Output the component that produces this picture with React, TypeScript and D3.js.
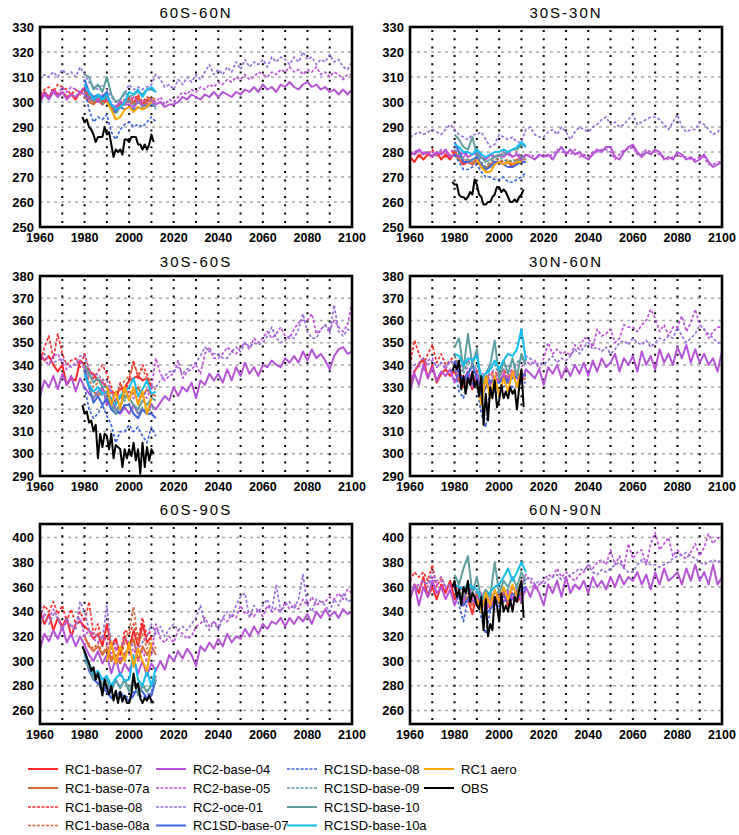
import React from "react";
import * as d3 from "d3";

// year axes for the different runs
const yrsLong = d3.range(1960, 2101, 2); // RC2 runs
const yrsRC1 = d3.range(1960, 2011, 2); // RC1-base-07 / -08
const yrsSD = d3.range(1980, 2013, 2); // RC1SD runs, RC1-base-07a / -08a
const yrsAero = d3.range(1990, 2011, 2);
const yrsObs = d3.range(1979, 2012);

const panelTitles = ["60S-60N", "30S-30N", "30S-60S", "30N-60N", "60S-90S", "60N-90N"];
const yDomains: [number, number][] = [[250, 330], [250, 330], [290, 380], [290, 380], [249, 411], [249, 411]];
const yTicks = [
  d3.range(250, 331, 10), d3.range(250, 331, 10),
  d3.range(290, 381, 10), d3.range(290, 381, 10),
  d3.range(260, 401, 20), d3.range(260, 401, 20),
];
const xTicks = d3.range(1960, 2101, 20);

// legend / series
const seriesKeys = ["rc1b07", "rc1b07a", "rc1b08", "rc1b08a", "rc2b04", "rc2b05", "rc2oce", "sd07",
  "sd08", "sd09", "sd10", "sd10a", "aero", "obs"];
const seriesNames = ["RC1-base-07", "RC1-base-07a", "RC1-base-08", "RC1-base-08a", "RC2-base-04", "RC2-base-05",
  "RC2-oce-01", "RC1SD-base-07", "RC1SD-base-08", "RC1SD-base-09", "RC1SD-base-10", "RC1SD-base-10a", "RC1 aero", "OBS"];
const seriesColors = ["#ff2b2b", "#d8693a", "#ff2b2b", "#d8693a", "#b652d8", "#c050dc", "#9670dc", "#3f66e0",
  "#3f66e0", "#5f9ea0", "#5f9ea0", "#10bdf5", "#ffa500", "#000000"];
const seriesDashed = [false, false, true, true, false, true, true, false, true, true, false, false, false, false];

// ---- 60S-60N ----
const g_rc2b04 = [300, 303, 301, 304, 302, 304, 301, 303, 302, 304,
  303, 301, 302, 300, 302, 301, 299, 298, 300, 299,
  299, 298, 300, 299, 298, 300, 299, 300, 298, 299,
  299, 300, 302, 301, 303, 302, 301, 303, 302, 304,
  302, 304, 303, 302, 304, 303, 305, 304, 306, 304,
  307, 305, 306, 304, 307, 306, 308, 306, 305, 307,
  308, 306, 307, 305, 306, 304, 305, 303, 305, 303, 305];
const g_rc2b05 = [301, 304, 302, 305, 303, 306, 304, 306, 305, 304,
  306, 303, 302, 301, 303, 301, 299, 298, 300, 301,
  300, 302, 300, 301, 299, 301, 300, 302, 299, 301,
  300, 302, 304, 303, 305, 304, 306, 305, 307, 306,
  308, 307, 309, 308, 310, 309, 311, 309, 310, 312,
  311, 310, 312, 311, 313, 312, 314, 312, 313, 311,
  313, 312, 314, 311, 312, 310, 312, 311, 309, 311, 311];
const g_rc2oce = [309, 311, 310, 312, 310, 313, 311, 312, 310, 314,
  311, 308, 306, 305, 307, 305, 302, 300, 301, 303,
  307, 305, 306, 305, 306, 307, 311, 309, 306, 307,
  305, 309, 307, 310, 308, 311, 309, 312, 315, 311,
  313, 311, 314, 312, 316, 313, 317, 314, 316, 315,
  317, 314, 318, 316, 318, 317, 315, 318, 316, 320,
  317, 318, 315, 317, 316, 319, 316, 317, 314, 313, 316];
const g_rc1b07 = [301, 304, 302, 305, 303, 304, 302, 303, 301, 304,
  305, 302, 300, 301, 299, 301, 297, 296, 299, 300, 301, 300, 302, 299, 301, 300];
const g_rc1b08 = [303, 305, 306, 304, 307, 306, 305, 303, 305, 303,
  306, 303, 301, 302, 300, 303, 298, 297, 300, 299, 302, 301, 303, 300, 302, 301];
const g_rc1b07a = [302, 300, 299, 301, 300, 302, 298, 296, 299, 300, 300, 299, 301, 298, 300, 301, 300];
const g_rc1b08a = [304, 301, 300, 302, 299, 303, 299, 297, 300, 301, 301, 300, 302, 299, 301, 302, 301];
const g_sd07 = [309, 304, 302, 303, 302, 304, 297, 296, 298, 297, 298, 297, 298, 297, 298, 299, 298];
const g_sd08 = [305, 297, 292, 294, 293, 295, 288, 285, 289, 291, 292, 290, 291, 290, 292, 294, 292];
const g_sd09 = [307, 302, 300, 302, 299, 303, 297, 295, 298, 299, 301, 299, 300, 298, 299, 300, 297];
const g_sd10 = [311, 310, 305, 307, 304, 310, 303, 300, 301, 304, 302, 303, 304, 303, 305, 305, 304];
const g_sd10a = [307, 304, 301, 303, 301, 303, 299, 297, 298, 300, 304, 303, 305, 302, 305, 306, 304];
const g_aero = [300, 297, 293, 294, 297, 298, 296, 298, 297, 298, 300];
const g_obs = [294, 292, 293, 290, 289, 287, 284, 286, 286, 286,
  290, 287, 288, 283, 278, 281, 280, 281, 279, 285,
  285, 284, 286, 286, 286, 283, 283, 281, 283, 281, 283, 287, 284];

// ---- 30S-30N ----
const t_rc2b04 = [280, 279, 281, 279, 280, 278, 280, 279, 281, 278,
  279, 278, 280, 278, 279, 280, 278, 277, 279, 278,
  279, 278, 280, 278, 279, 277, 279, 278, 277, 279,
  278, 279, 277, 280, 282, 279, 281, 279, 280, 278,
  277, 279, 281, 280, 282, 282, 278, 277, 280, 282,
  283, 280, 278, 280, 279, 281, 280, 277, 278, 277,
  280, 279, 277, 278, 276, 277, 279, 276, 274, 275, 276];
const t_rc2b05 = [279, 280, 281, 280, 279, 280, 279, 281, 279, 280,
  281, 279, 278, 280, 279, 279, 277, 278, 278, 279,
  278, 280, 279, 278, 280, 278, 278, 279, 278, 278,
  279, 278, 279, 281, 280, 280, 279, 281, 278, 279,
  278, 280, 280, 281, 281, 280, 277, 279, 281, 281,
  282, 279, 279, 281, 280, 280, 279, 278, 277, 278,
  279, 278, 278, 277, 277, 278, 278, 275, 275, 276, 276];
const t_rc2oce = [286, 287, 288, 287, 288, 289, 288, 287, 289, 291,
  289, 287, 286, 285, 287, 287, 288, 285, 282, 283,
  287, 286, 285, 286, 284, 284, 289, 290, 287, 286,
  286, 288, 289, 287, 290, 288, 285, 288, 290, 289,
  288, 290, 291, 293, 294, 291, 292, 290, 291, 293,
  295, 291, 292, 293, 294, 294, 293, 291, 289, 292,
  295, 290, 288, 289, 289, 292, 291, 289, 287, 288, 290];
const t_rc1b07 = [278, 276, 279, 277, 279, 278, 280, 277, 279, 277,
  280, 277, 275, 276, 275, 277, 274, 273, 275, 276, 276, 275, 276, 274, 276, 277];
const t_rc1b08 = [279, 280, 278, 280, 279, 281, 278, 280, 278, 279,
  281, 278, 277, 276, 277, 278, 275, 274, 276, 277, 277, 276, 277, 275, 277, 278];
const t_rc1b07a = [279, 277, 276, 276, 275, 277, 274, 273, 275, 276, 276, 275, 276, 275, 276, 277, 277];
const t_rc1b08a = [280, 278, 277, 277, 276, 278, 275, 274, 276, 277, 277, 276, 277, 276, 277, 278, 278];
const t_sd07 = [284, 280, 276, 276, 277, 278, 275, 273, 274, 276, 276, 275, 274, 274, 275, 276, 276];
const t_sd08 = [279, 276, 273, 273, 274, 275, 272, 270, 270, 269, 269, 270, 268, 268, 269, 270, 272];
const t_sd09 = [281, 279, 277, 277, 276, 279, 276, 274, 276, 277, 278, 277, 276, 277, 276, 278, 277];
const t_sd10 = [287, 285, 282, 281, 286, 279, 278, 276, 277, 278, 279, 279, 280, 281, 281, 283, 282];
const t_sd10a = [283, 282, 280, 280, 279, 281, 279, 278, 279, 280, 280, 281, 280, 281, 282, 284, 282];
const t_aero = [277, 274, 272, 272, 275, 276, 275, 276, 275, 276, 276];
const t_obs = [268, 267, 267, 263, 262, 262, 261, 262, 264, 263,
  269, 267, 263, 262, 259, 259, 260, 260, 262, 263,
  266, 266, 264, 265, 264, 262, 260, 260, 261, 260, 262, 263, 265];

// ---- 30S-60S ----
const sm_rc2b04 = [326, 333, 330, 335, 329, 336, 331, 335, 328, 334,
  330, 327, 325, 328, 330, 322, 325, 320, 318, 321,
  318, 322, 318, 320, 318, 322, 320, 323, 326, 324,
  330, 326, 330, 328, 332, 325, 333, 331, 336, 333,
  336, 332, 338, 333, 339, 335, 341, 336, 339, 335,
  340, 339, 342, 340, 339, 343, 341, 344, 341, 346,
  342, 347, 343, 345, 342, 338, 344, 347, 348, 345, 346];
const sm_rc2b05 = [345, 342, 340, 344, 345, 341, 338, 340, 340, 342,
  338, 335, 333, 334, 332, 330, 328, 327, 326, 328,
  328, 326, 325, 327, 325, 330, 343, 336, 333, 335,
  336, 342, 334, 337, 338, 340, 336, 345, 348, 343,
  343, 345, 348, 346, 345, 348, 350, 347, 352, 350,
  352, 355, 352, 354, 357, 353, 352, 356, 359, 360,
  360, 363, 354, 356, 358, 356, 360, 357, 355, 358, 368];
const sm_rc2oce = [343, 345, 342, 341, 342, 343, 340, 339, 341, 344,
  344, 338, 335, 336, 333, 333, 328, 324, 325, 326,
  326, 325, 324, 326, 328, 330, 330, 333, 335, 337,
  337, 339, 336, 338, 340, 341, 344, 348, 346, 345,
  345, 343, 343, 346, 348, 346, 350, 348, 350, 349,
  350, 353, 357, 352, 350, 351, 353, 352, 356, 363,
  355, 352, 352, 356, 358, 354, 367, 355, 353, 356, 355];
const sm_rc1b07 = [345, 342, 344, 340, 337, 340, 331, 334, 333, 342,
  340, 337, 336, 333, 332, 330, 328, 327, 329, 330, 333, 334, 335, 333, 334, 330];
const sm_rc1b08 = [340, 348, 353, 343, 354, 345, 340, 342, 343, 339,
  345, 338, 334, 337, 340, 336, 330, 322, 332, 326, 333, 342, 334, 340, 336, 330];
const sm_rc1b07a = [337, 330, 328, 326, 329, 327, 324, 322, 326, 325, 328, 327, 330, 326, 329, 327, 326];
const sm_rc1b08a = [339, 333, 330, 332, 334, 330, 327, 324, 330, 333, 335, 340, 336, 338, 334, 330, 329];
const sm_sd07 = [338, 330, 323, 326, 322, 325, 320, 318, 319, 322, 322, 318, 316, 320, 318, 318, 316];
const sm_sd08 = [330, 320, 316, 318, 322, 317, 313, 305, 310, 310, 313, 310, 312, 308, 305, 312, 308];
const sm_sd09 = [335, 330, 325, 328, 326, 326, 322, 320, 322, 324, 325, 322, 318, 321, 319, 320, 322];
const sm_sd10 = [340, 336, 332, 334, 330, 330, 322, 318, 322, 326, 325, 322, 320, 324, 322, 325, 324];
const sm_sd10a = [336, 331, 328, 330, 327, 328, 325, 322, 326, 328, 330, 334, 326, 329, 333, 327, 328];
const sm_aero = [330, 322, 328, 320, 330, 324, 330, 322, 328, 318, 325];
const sm_obs = [322, 318, 319, 314, 315, 310, 313, 298, 309, 303,
  309, 308, 302, 309, 298, 304, 303, 302, 294, 302,
  298, 302, 299, 305, 297, 302, 291, 305, 294, 303, 297, 302, 300];

// ---- 30N-60N ----
const nm_rc2b04 = [328, 336, 331, 340, 334, 339, 333, 337, 335, 338,
  332, 336, 333, 337, 330, 336, 330, 333, 331, 335,
  332, 336, 333, 337, 334, 332, 338, 336, 334, 338,
  331, 339, 336, 340, 334, 339, 335, 340, 336, 341,
  335, 342, 337, 343, 339, 341, 345, 337, 343, 340,
  344, 337, 346, 340, 344, 338, 347, 341, 345, 340,
  348, 343, 349, 341, 347, 341, 345, 340, 343, 337, 346];
const nm_rc2b05 = [332, 338, 340, 337, 342, 343, 339, 341, 338, 342,
  340, 338, 337, 339, 337, 336, 334, 332, 334, 335,
  335, 338, 336, 338, 340, 339, 342, 340, 342, 338,
  343, 350, 345, 347, 345, 346, 344, 349, 347, 352,
  352, 348, 356, 353, 354, 356, 350, 352, 358, 357,
  357, 355, 358, 360, 365, 361, 355, 358, 353, 357,
  357, 362, 355, 359, 365, 358, 356, 352, 355, 357, 357];
const nm_rc2oce = [338, 340, 341, 343, 340, 342, 339, 341, 339, 341,
  341, 339, 340, 342, 340, 338, 337, 334, 336, 338,
  338, 340, 339, 340, 341, 342, 344, 343, 340, 341,
  340, 342, 344, 341, 343, 342, 344, 347, 345, 348,
  350, 347, 348, 346, 348, 345, 347, 350, 351, 349,
  352, 350, 349, 351, 348, 350, 352, 351, 353, 352,
  357, 353, 350, 352, 354, 358, 356, 354, 352, 350, 350];
const nm_rc1b07 = [330, 337, 340, 343, 334, 340, 332, 336, 338, 335,
  337, 333, 330, 334, 329, 333, 328, 330, 332, 334, 333, 335, 332, 336, 334, 333];
const nm_rc1b08 = [340, 351, 345, 340, 345, 349, 341, 345, 340, 342,
  344, 338, 333, 337, 334, 338, 330, 334, 336, 337, 335, 338, 334, 338, 336, 335];
const nm_rc1b07a = [338, 334, 331, 335, 330, 334, 328, 330, 332, 334, 333, 335, 332, 336, 334, 333, 334];
const nm_rc1b08a = [340, 336, 333, 337, 333, 336, 330, 333, 335, 336, 335, 337, 334, 337, 336, 335, 336];
const nm_sd07 = [342, 336, 332, 336, 340, 334, 325, 330, 333, 332, 332, 334, 333, 334, 335, 336, 335];
const nm_sd08 = [340, 328, 325, 335, 332, 330, 318, 312, 330, 328, 326, 330, 333, 330, 330, 332, 332];
const nm_sd09 = [344, 340, 336, 342, 338, 340, 332, 334, 338, 340, 336, 338, 340, 339, 341, 343, 340];
const nm_sd10 = [348, 352, 338, 354, 340, 347, 330, 336, 340, 351, 334, 342, 336, 343, 335, 345, 340];
const nm_sd10a = [345, 344, 340, 343, 342, 344, 334, 336, 338, 342, 338, 342, 345, 344, 347, 356, 342];
const nm_aero = [332, 322, 335, 325, 335, 326, 334, 328, 337, 330, 338];
const nm_obs = [337, 340, 338, 342, 329, 335, 327, 334, 331, 337,
  330, 333, 326, 335, 313, 327, 315, 330, 325, 333,
  321, 324, 331, 325, 328, 325, 330, 327, 329, 320, 330, 338, 321];

// ---- 60S-90S ----
const sp_rc2b04 = [310, 322, 316, 325, 318, 328, 315, 322, 312, 320,
  313, 305, 300, 308, 298, 305, 290, 302, 288, 298,
  292, 302, 290, 300, 288, 298, 292, 300, 293, 305,
  300, 308, 302, 310, 305, 296, 312, 308, 315, 310,
  318, 312, 322, 315, 320, 318, 326, 320, 328, 322,
  330, 326, 332, 330, 335, 328, 335, 330, 336, 332,
  338, 330, 340, 335, 342, 336, 340, 335, 342, 338, 340];
const sp_rc2b05 = [330, 338, 335, 342, 335, 325, 332, 328, 330, 335,
  320, 325, 318, 315, 320, 315, 305, 312, 300, 308,
  305, 310, 300, 308, 300, 305, 330, 318, 315, 320,
  315, 325, 322, 318, 320, 328, 330, 335, 328, 332,
  328, 335, 332, 338, 335, 345, 338, 340, 336, 342,
  336, 345, 340, 343, 340, 348, 342, 346, 342, 350,
  345, 352, 345, 348, 348, 352, 350, 355, 350, 358, 355];
const sp_rc2oce = [345, 335, 330, 338, 335, 325, 335, 328, 325, 348,
  340, 325, 322, 320, 318, 345, 310, 315, 310, 318,
  315, 312, 310, 315, 320, 330, 322, 328, 320, 326,
  330, 325, 328, 325, 330, 335, 345, 330, 325, 332,
  325, 335, 340, 335, 345, 352, 355, 335, 345, 340,
  345, 350, 340, 362, 340, 345, 348, 342, 350, 370,
  345, 340, 350, 348, 345, 340, 350, 345, 355, 348, 350];
const sp_rc1b07 = [340, 330, 338, 325, 335, 328, 335, 320, 330, 332,
  328, 325, 318, 322, 312, 330, 312, 318, 305, 320, 310, 325, 312, 330, 315, 320];
const sp_rc1b08 = [335, 345, 340, 348, 338, 345, 332, 342, 330, 340,
  332, 348, 322, 330, 315, 320, 310, 318, 305, 325, 322, 330, 318, 335, 320, 325];
const sp_rc1b07a = [320, 312, 308, 312, 305, 310, 300, 305, 298, 306, 310, 318, 300, 312, 305, 312, 305];
const sp_rc1b08a = [318, 314, 310, 315, 306, 312, 302, 310, 300, 315, 325, 344, 315, 322, 310, 318, 310];
const sp_sd07 = [308, 292, 285, 282, 278, 275, 270, 272, 275, 270, 268, 272, 280, 275, 270, 272, 285];
const sp_sd08 = [305, 295, 290, 282, 275, 280, 272, 270, 270, 272, 270, 275, 275, 270, 272, 275, 288];
const sp_sd09 = [300, 298, 288, 290, 282, 286, 278, 284, 280, 285, 278, 286, 278, 282, 276, 282, 287];
const sp_sd10 = [300, 295, 285, 290, 280, 285, 275, 285, 278, 285, 275, 285, 272, 280, 275, 280, 285];
const sp_sd10a = [305, 298, 290, 292, 285, 288, 280, 286, 290, 284, 285, 305, 285, 280, 292, 280, 295];
const sp_aero = [300, 315, 298, 312, 300, 315, 295, 310, 300, 292, 315];
const sp_obs = [312, 308, 303, 298, 292, 295, 285, 290, 282, 272,
  285, 278, 273, 280, 268, 276, 266, 275, 267, 272,
  266, 266, 273, 290, 278, 282, 270, 266, 270, 268, 272, 268, 266];

// ---- 60N-90N ----
const np_rc2b04 = [350, 362, 345, 360, 352, 365, 355, 360, 350, 358,
  345, 355, 348, 360, 350, 345, 355, 340, 350, 345,
  352, 348, 355, 350, 358, 348, 360, 352, 362, 355,
  345, 362, 355, 365, 352, 368, 355, 362, 358, 365,
  355, 368, 360, 365, 358, 368, 360, 370, 362, 368,
  365, 372, 362, 370, 358, 372, 362, 375, 365, 368,
  372, 362, 375, 365, 378, 365, 372, 362, 378, 362, 368];
const np_rc2b05 = [355, 360, 362, 365, 360, 368, 362, 365, 358, 360,
  360, 358, 356, 360, 355, 352, 350, 348, 350, 352,
  352, 355, 356, 358, 360, 362, 370, 365, 358, 362,
  365, 370, 368, 375, 368, 372, 368, 365, 370, 372,
  378, 375, 380, 382, 378, 390, 378, 385, 375, 395,
  383, 388, 390, 378, 395, 404, 390, 395, 400, 385,
  390, 385, 383, 388, 395, 385, 392, 403, 395, 400, 398];
const np_rc2oce = [355, 360, 358, 365, 362, 372, 365, 368, 360, 362,
  362, 360, 358, 357, 358, 355, 352, 350, 353, 354,
  355, 356, 357, 358, 360, 362, 366, 368, 362, 365,
  362, 366, 368, 370, 366, 368, 370, 372, 375, 373,
  378, 372, 370, 374, 372, 375, 378, 380, 375, 372,
  372, 378, 382, 380, 378, 378, 376, 378, 380, 383,
  385, 386, 388, 385, 383, 380, 378, 380, 382, 380, 382];
const np_rc1b07 = [350, 362, 355, 368, 352, 360, 350, 362, 355, 365,
  350, 355, 345, 350, 338, 355, 345, 350, 342, 352, 348, 355, 345, 352, 348, 352];
const np_rc1b08 = [365, 372, 368, 372, 365, 378, 360, 368, 358, 362,
  358, 360, 355, 360, 352, 356, 348, 352, 350, 356, 352, 358, 350, 356, 354, 360];
const np_rc1b07a = [355, 352, 348, 352, 345, 352, 345, 348, 344, 350, 350, 354, 348, 352, 350, 355, 356];
const np_rc1b08a = [358, 355, 350, 355, 348, 354, 348, 350, 346, 352, 352, 356, 350, 354, 352, 357, 358];
const np_sd07 = [358, 352, 345, 350, 355, 348, 340, 338, 342, 346, 350, 352, 352, 354, 355, 358, 360];
const np_sd08 = [360, 345, 332, 350, 348, 350, 335, 322, 340, 342, 345, 348, 350, 350, 352, 355, 358];
const np_sd09 = [362, 358, 352, 358, 360, 355, 348, 345, 350, 355, 356, 358, 358, 360, 358, 362, 363];
const np_sd10 = [370, 362, 375, 385, 355, 368, 350, 358, 352, 380, 355, 365, 360, 368, 360, 372, 365];
const np_sd10a = [362, 360, 358, 362, 360, 358, 350, 352, 356, 360, 362, 368, 375, 365, 372, 380, 372];
const np_aero = [350, 340, 355, 345, 358, 348, 360, 350, 362, 352, 365];
const np_obs = [360, 365, 352, 358, 345, 360, 355, 365, 348, 355,
  352, 345, 342, 352, 325, 350, 320, 330, 325, 352,
  345, 332, 355, 340, 345, 340, 350, 340, 352, 348, 358, 365, 335];

// table built from the named arrays above
const panelSeries: Record<string, number[]>[] = [
  { rc1b07: g_rc1b07, rc1b07a: g_rc1b07a, rc1b08: g_rc1b08, rc1b08a: g_rc1b08a, rc2b04: g_rc2b04, rc2b05: g_rc2b05, rc2oce: g_rc2oce, sd07: g_sd07, sd08: g_sd08, sd09: g_sd09, sd10: g_sd10, sd10a: g_sd10a, aero: g_aero, obs: g_obs },
  { rc1b07: t_rc1b07, rc1b07a: t_rc1b07a, rc1b08: t_rc1b08, rc1b08a: t_rc1b08a, rc2b04: t_rc2b04, rc2b05: t_rc2b05, rc2oce: t_rc2oce, sd07: t_sd07, sd08: t_sd08, sd09: t_sd09, sd10: t_sd10, sd10a: t_sd10a, aero: t_aero, obs: t_obs },
  { rc1b07: sm_rc1b07, rc1b07a: sm_rc1b07a, rc1b08: sm_rc1b08, rc1b08a: sm_rc1b08a, rc2b04: sm_rc2b04, rc2b05: sm_rc2b05, rc2oce: sm_rc2oce, sd07: sm_sd07, sd08: sm_sd08, sd09: sm_sd09, sd10: sm_sd10, sd10a: sm_sd10a, aero: sm_aero, obs: sm_obs },
  { rc1b07: nm_rc1b07, rc1b07a: nm_rc1b07a, rc1b08: nm_rc1b08, rc1b08a: nm_rc1b08a, rc2b04: nm_rc2b04, rc2b05: nm_rc2b05, rc2oce: nm_rc2oce, sd07: nm_sd07, sd08: nm_sd08, sd09: nm_sd09, sd10: nm_sd10, sd10a: nm_sd10a, aero: nm_aero, obs: nm_obs },
  { rc1b07: sp_rc1b07, rc1b07a: sp_rc1b07a, rc1b08: sp_rc1b08, rc1b08a: sp_rc1b08a, rc2b04: sp_rc2b04, rc2b05: sp_rc2b05, rc2oce: sp_rc2oce, sd07: sp_sd07, sd08: sp_sd08, sd09: sp_sd09, sd10: sp_sd10, sd10a: sp_sd10a, aero: sp_aero, obs: sp_obs },
  { rc1b07: np_rc1b07, rc1b07a: np_rc1b07a, rc1b08: np_rc1b08, rc1b08a: np_rc1b08a, rc2b04: np_rc2b04, rc2b05: np_rc2b05, rc2oce: np_rc2oce, sd07: np_sd07, sd08: np_sd08, sd09: np_sd09, sd10: np_sd10, sd10a: np_sd10a, aero: np_aero, obs: np_obs },
];

function yearsFor(key: string) {
  if (key.startsWith("rc2")) return yrsLong;
  if (key === "rc1b07" || key === "rc1b08") return yrsRC1;
  if (key === "aero") return yrsAero;
  if (key === "obs") return yrsObs;
  return yrsSD;
}

// layout
const W = 739, H = 835;
const colLeft = [40, 410];
const rowTop = [27, 276, 524];
const PW = 312, PH = 200;
const FONT = "'Liberation Sans', Arial, sans-serif";

const Panel: React.FC<{ idx: number }> = ({ idx }) => {
  const left = colLeft[idx % 2];
  const top = rowTop[Math.floor(idx / 2)];
  const x = d3.scaleLinear().domain([1960, 2100]).range([left, left + PW]);
  const y = d3.scaleLinear().domain(yDomains[idx]).range([top + PH, top]);
  const data = panelSeries[idx];
  const clipId = `clip-${idx}`;
  const line = d3.line<[number, number]>().x(d => x(d[0])).y(d => y(d[1]));

  return (
    <g>
      <defs>
        <clipPath id={clipId}>
          <rect x={left} y={top} width={PW} height={PH} />
        </clipPath>
      </defs>
      <rect x={left} y={top} width={PW} height={PH} fill="#fff" />
      {/* horizontal grey dashed grid */}
      {yTicks[idx].filter(t => y(t) > top + 1 && y(t) < top + PH - 1).map(t => (
        <line key={`h${t}`} x1={left} x2={left + PW} y1={y(t)} y2={y(t)}
          stroke="#a8a8a8" strokeWidth={1.5} strokeDasharray="3,4" />
      ))}
      {/* vertical black dotted grid */}
      {d3.range(1970, 2100, 10).map(t => (
        <line key={`v${t}`} x1={x(t)} x2={x(t)} y1={top + 3} y2={top + PH}
          stroke="#000" strokeWidth={2} strokeDasharray="2,6.3" />
      ))}
      <g clipPath={`url(#${clipId})`}>
        {seriesKeys.map((k, i) => {
          const yrs = yearsFor(k);
          const pts = data[k].map((v, j) => [yrs[j], v] as [number, number]);
          return (
            <path key={k} d={line(pts) || ""} fill="none" stroke={seriesColors[i]}
              strokeWidth={seriesDashed[i] ? 1.7 : 2} strokeDasharray={seriesDashed[i] ? "3,2" : undefined}
              strokeLinejoin="round" />
          );
        })}
      </g>
      <rect x={left} y={top} width={PW} height={PH} fill="none" stroke="#000" strokeWidth={2.6} />
      {yTicks[idx].map(t => (
        <text key={`yl${t}`} x={left - 6} y={y(t)} dy="0.36em" textAnchor="end"
          fontFamily={FONT} fontWeight="bold" fontSize={13} fill="#000">{t}</text>
      ))}
      {xTicks.map(t => (
        <text key={`xl${t}`} x={x(t)} y={top + PH + 15} textAnchor="middle"
          fontFamily={FONT} fontWeight="bold" fontSize={12.5} fill="#000">{t}</text>
      ))}
      <text x={left + PW / 2} y={top - 9} textAnchor="middle" fontFamily={FONT}
        fontSize={15} letterSpacing={2} fill="#000">{panelTitles[idx]}</text>
    </g>
  );
};

const legendColX = [28, 156, 287, 424];
const legendRowY = [769, 788, 807, 825.5];

export default function App() {
  return (
    <svg width={W} height={H} style={{ position: "absolute", left: 0, top: 0, background: "#fff" }}>
      <rect width={W} height={H} fill="#fff" />
      {panelTitles.map((_, i) => <Panel key={i} idx={i} />)}
      {seriesNames.map((name, i) => {
        const cx = legendColX[Math.floor(i / 4)];
        const cy = legendRowY[i % 4];
        return (
          <g key={name}>
            <line x1={cx} x2={cx + 30} y1={cy} y2={cy} stroke={seriesColors[i]}
              strokeWidth={seriesDashed[i] ? 1.7 : 2} strokeDasharray={seriesDashed[i] ? "3,1.5" : undefined} />
            <text x={cx + 37} y={cy} dy="0.36em" fontFamily={FONT} fontSize={13} fill="#000">{name}</text>
          </g>
        );
      })}
    </svg>
  );
}
